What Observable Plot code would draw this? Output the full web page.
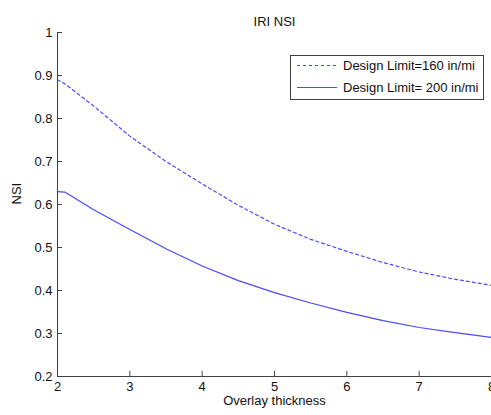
<!DOCTYPE html>
<html>
<head>
<meta charset="utf-8">
<script src="https://cdn.jsdelivr.net/npm/d3@7"></script>
<script src="https://cdn.jsdelivr.net/npm/@observablehq/plot@0.6"></script>
<style>
  html, body { margin: 0; padding: 0; background: #fff; }
  #chart svg { display: block; }
</style>
</head>
<body>
<div id="chart"></div>
<script>
// Overlay thickness (in) and the resulting NSI for two IRI design limits
const thickness = [2, 2.1, 2.5, 3, 3.5, 4, 4.5, 5, 5.5, 6, 6.5, 7, 7.5, 8];
const nsi160 = [0.890, 0.881, 0.829, 0.759, 0.700, 0.648, 0.598, 0.554, 0.519, 0.491, 0.465, 0.443, 0.426, 0.412];
const nsi200 = [0.630, 0.629, 0.588, 0.542, 0.497, 0.457, 0.423, 0.395, 0.371, 0.349, 0.330, 0.314, 0.302, 0.291];

const seriesNames = ["Design Limit=160 in/mi", "Design Limit= 200 in/mi"];
const xTicks = [2, 3, 4, 5, 6, 7, 8];
const yTicks = [0.2, 0.3, 0.4, 0.5, 0.6, 0.7, 0.8, 0.9, 1];

const lineColor = "#4a4aff";
const lineWidth = 1.2;
const axisColor = "#404040";

const rows160 = thickness.map((t, i) => ({t, v: nsi160[i]}));
const rows200 = thickness.map((t, i) => ({t, v: nsi200[i]}));

const plot = Plot.plot({
  width: 491,
  height: 415,
  marginLeft: 57,
  marginRight: 0,
  marginTop: 32,
  marginBottom: 39,
  style: {fontFamily: "'Liberation Sans', Arial, sans-serif", fontSize: "13px", color: "#111", background: "#fff"},
  x: {domain: [2, 8]},
  y: {domain: [0.2, 1]},
  marks: [
    Plot.line(rows160, {x: "t", y: "v", stroke: lineColor, strokeWidth: lineWidth, strokeDasharray: "3,3"}),
    Plot.line(rows200, {x: "t", y: "v", stroke: lineColor, strokeWidth: lineWidth}),
    Plot.axisX(xTicks, {tickSize: -5, tickPadding: 10, stroke: axisColor, strokeWidth: 1, label: null, tickFormat: d => d}),
    Plot.axisY(yTicks, {tickSize: -5, tickPadding: 10, stroke: axisColor, strokeWidth: 1, label: null, tickFormat: d => d}),
    Plot.ruleY([0.2], {stroke: axisColor}),
    Plot.ruleX([2], {stroke: axisColor}),
    Plot.text(["IRI NSI"], {frameAnchor: "top", dy: -16, fill: "#111"}),
    Plot.text(["Overlay thickness"], {frameAnchor: "bottom", dy: 28, fill: "#111"}),
    Plot.text(["NSI"], {frameAnchor: "left", dx: -41, rotate: -90, fill: "#111"})
  ]
});

// Legend box in the upper right of the axes
const svg = d3.select(plot);
const legend = svg.append("g")
  .attr("font-family", "'Liberation Sans', Arial, sans-serif")
  .attr("font-size", 13)
  .attr("text-anchor", "start");
legend.append("rect")
  .attr("x", 290.5).attr("y", 55.5).attr("width", 193).attr("height", 44)
  .attr("fill", "#fff").attr("stroke", axisColor);
seriesNames.forEach((name, i) => {
  const cy = 65.5 + i * 22;
  legend.append("line")
    .attr("x1", 297).attr("x2", 337).attr("y1", cy).attr("y2", cy)
    .attr("stroke", lineColor).attr("stroke-width", lineWidth)
    .attr("stroke-dasharray", i === 0 ? "3,3" : null);
  legend.append("text")
    .attr("x", 343).attr("y", cy).attr("dy", "0.35em")
    .attr("text-anchor", "start")
    .attr("fill", "#111").text(name);
});

document.getElementById("chart").appendChild(plot);
</script>
</body>
</html>
